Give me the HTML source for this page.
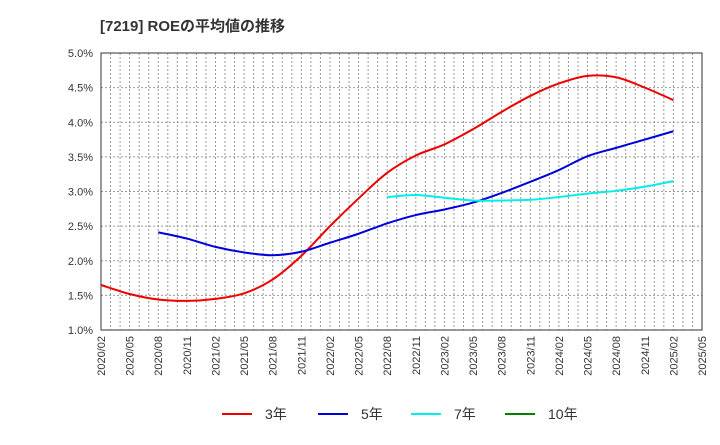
<!DOCTYPE html>
<html><head><meta charset="utf-8">
<style>
body{margin:0;background:#fff;font-family:"Liberation Sans","Noto Sans CJK JP",sans-serif;}
svg text{font-family:"Liberation Sans","Noto Sans CJK JP",sans-serif;}
</style></head>
<body>
<svg id="chart" width="720" height="440">
<text x="100" y="31" font-size="15" font-weight="bold" fill="#333">[7219]  ROEの平均値の推移</text>
<g id="grid"></g>
<g id="axes"></g>
<g id="series"></g>
<g id="legend"></g>
</svg>
<script>
const xLabels=["2020/02","2020/05","2020/08","2020/11","2021/02","2021/05","2021/08","2021/11","2022/02","2022/05","2022/08","2022/11","2023/02","2023/05","2023/08","2023/11","2024/02","2024/05","2024/08","2024/11","2025/02","2025/05"];
const yTicks=[1.0,1.5,2.0,2.5,3.0,3.5,4.0,4.5,5.0];
const s3=[1.65,1.52,1.44,1.42,1.45,1.53,1.73,2.07,2.5,2.9,3.27,3.52,3.68,3.9,4.15,4.38,4.56,4.67,4.65,4.5,4.32];
const s5=[null,null,2.41,2.32,2.2,2.12,2.08,2.13,2.26,2.39,2.54,2.66,2.74,2.84,2.98,3.14,3.31,3.51,3.63,3.75,3.87];
const s7=[null,null,null,null,null,null,null,null,null,null,2.92,2.95,2.91,2.87,2.87,2.88,2.92,2.97,3.01,3.07,3.15];
const s10=[];
const L=101,R=702,T=53,B=330;
const nMonths=63;
const xs=i=>L+(R-L)*(i*3)/nMonths;
const ys=v=>B-(v-1.0)/(5.0-1.0)*(B-T);
const NS="http://www.w3.org/2000/svg";
function mk(tag,attrs,parent){const e=document.createElementNS(NS,tag);for(const k in attrs)e.setAttribute(k,attrs[k]);parent.appendChild(e);return e;}
const grid=document.getElementById('grid'),axes=document.getElementById('axes'),ser=document.getElementById('series'),leg=document.getElementById('legend');
for(let m=1;m<nMonths;m++){const x=L+(R-L)*m/nMonths;
 const g=mk('line',{x1:x,x2:x,y1:T,y2:B,stroke:'#999','stroke-width':1,'stroke-dasharray':'2,2'},grid);
 
 }
yTicks.forEach(v=>{const y=ys(v);
 const g=mk('line',{x1:L,x2:R,y1:y,y2:y,stroke:'#999','stroke-width':1,'stroke-dasharray':'2,2'},grid);
 
 
 const t=mk('text',{x:L-8,y:y+4,'font-size':11,'text-anchor':'end',fill:'#333'},axes);
 t.textContent=v.toFixed(1)+'%';
 
 });
const frame=mk('rect',{x:L,y:T,width:R-L,height:B-T,fill:'none',stroke:'#333','stroke-width':1},axes);


xLabels.forEach((s,i)=>{const x=xs(i);
 const t=mk('text',{x:0,y:0,'font-size':11,'text-anchor':'end',fill:'#333',transform:`translate(${x+4},${B+6}) rotate(-90)`},axes);
 t.textContent=s;
 
 });
function path(data){const p=[];data.forEach((v,i)=>{if(v!=null)p.push([xs(i),ys(v)]);});
 if(!p.length)return '';let d=`M${p[0][0]},${p[0][1]}`;
 for(let i=0;i<p.length-1;i++){const p0=p[i-1]||p[i],p1=p[i],p2=p[i+1],p3=p[i+2]||p2;
  d+=` C${p1[0]+(p2[0]-p0[0])/6},${p1[1]+(p2[1]-p0[1])/6} ${p2[0]-(p3[0]-p1[0])/6},${p2[1]-(p3[1]-p1[1])/6} ${p2[0]},${p2[1]}`;}
 return d;}
const series=[[s3,'#ee0000','3年','line-3yr'],[s5,'#0000dd','5年','line-5yr'],[s7,'#00eeee','7年','line-7yr'],[s10,'#008000','10年','line-10yr']];
const legX=[222,318,411,505];
series.forEach((s,k)=>{const d=path(s[0]);
 if(d){const pe=mk('path',{d:d,fill:'none',stroke:s[1],'stroke-width':2},ser);
  
  }
 const l=mk('line',{x1:legX[k],x2:legX[k]+30,y1:414,y2:414,stroke:s[1],'stroke-width':2},leg);
 
 
 const t=mk('text',{x:legX[k]+43,y:419,'font-size':14,fill:'#333'},leg);
 t.textContent=s[2];
 
 });
</script>
</body></html>
